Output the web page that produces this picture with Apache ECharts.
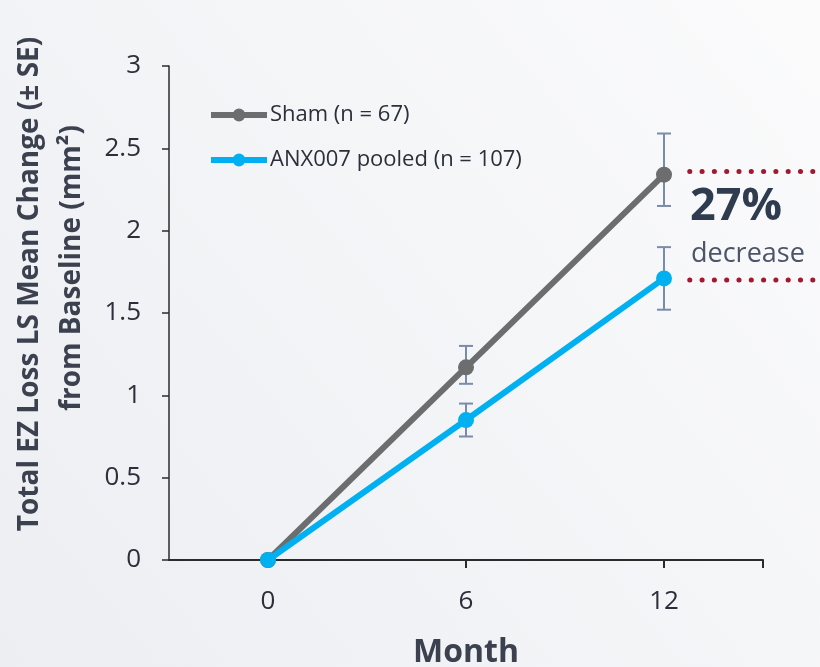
<!DOCTYPE html>
<html>
<head>
<meta charset="utf-8">
<script src="https://cdn.jsdelivr.net/npm/echarts@6/dist/echarts.min.js"></script>
<style>
  html, body { margin: 0; padding: 0; }
  #chart { width: 820px; height: 667px; }
</style>
</head>
<body>
<div id="chart"></div>
<script>
// months on the x axis
var months = [0, 6, 12];
var xLabels = [0, 6, 12];
var yTicks = [0, 0.5, 1, 1.5, 2, 2.5, 3];

// LS mean change, with SE bounds
var shamMean = [0, 1.17, 2.34];
var shamLow = [0, 1.07, 2.15];
var shamHigh = [0, 1.30, 2.59];

var anxMean = [0, 0.85, 1.71];
var anxLow = [0, 0.75, 1.52];
var anxHigh = [0, 0.95, 1.90];

// dotted guides marking the 12-month gap
var guideFrom = 12.78;
var guideLevels = [2.36, 1.70];

var shamName = 'Sham (n = 67)';
var anxName = 'ANX007 pooled (n = 107)';

var font = '"Open Sans", sans-serif';

function pairs(xs, ys) {
  return xs.map(function (x, i) { return [x, ys[i]]; });
}
function errPairs(xs, lo, hi) {
  var out = [];
  xs.forEach(function (x, i) {
    if (hi[i] - lo[i] > 0) out.push([x, lo[i], hi[i]]);
  });
  return out;
}

function errorBar(params, api) {
  var x = api.value(0);
  var lo = api.coord([x, api.value(1)]);
  var hi = api.coord([x, api.value(2)]);
  var w = 7;
  var st = { stroke: '#7b8cab', lineWidth: 2 };
  return {
    type: 'group',
    children: [
      { type: 'line', shape: { x1: lo[0], y1: lo[1], x2: hi[0], y2: hi[1] }, style: st },
      { type: 'line', shape: { x1: lo[0] - w, y1: lo[1], x2: lo[0] + w, y2: lo[1] }, style: st },
      { type: 'line', shape: { x1: hi[0] - w, y1: hi[1], x2: hi[0] + w, y2: hi[1] }, style: st }
    ]
  };
}

var chart = echarts.init(document.getElementById('chart'));
chart.setOption({
  backgroundColor: new echarts.graphic.LinearGradient(0, 1, 1, 0, [
    { offset: 0, color: '#eceef2' },
    { offset: 1, color: '#fbfbfc' }
  ]),
  animation: false,
  grid: { left: 169, right: 57, top: 66, bottom: 107, outerBoundsMode: 'none' },
  legend: {
    orient: 'vertical',
    left: 208,
    top: 104,
    padding: 0,
    itemWidth: 56,
    itemHeight: 16,
    itemGap: 23,
    data: [
      { name: shamName, lineStyle: { width: 6 } },
      { name: anxName, lineStyle: { width: 6 } }
    ],
    textStyle: { fontFamily: font, fontSize: 22, color: '#2a2f3a', padding: [0, 0, 0, -2] }
  },
  xAxis: {
    type: 'value',
    min: -3,
    max: 15,
    name: 'Month',
    nameLocation: 'middle',
    nameGap: 77,
    nameTextStyle: { fontFamily: font, fontSize: 32, fontWeight: 'bold', color: '#3c4150' },
    axisLine: { lineStyle: { color: '#2b2b2b', width: 2 } },
    axisTick: { show: true, customValues: [6, 12, 15], length: 8, lineStyle: { color: '#2b2b2b', width: 2 } },
    axisLabel: { customValues: xLabels, margin: 29, fontFamily: font, fontSize: 26, color: '#2a2f3a' },
    splitLine: { show: false }
  },
  yAxis: {
    type: 'value',
    min: 0,
    max: 3,
    interval: 0.5,
    axisLine: { show: true, onZero: false, lineStyle: { color: '#2b2b2b', width: 1.5 } },
    axisTick: { show: true, length: 7, lineStyle: { color: '#2b2b2b', width: 1.5 } },
    axisLabel: {
      customValues: yTicks, margin: 28, fontFamily: font, fontSize: 26, color: '#2a2f3a'
    },
    splitLine: { show: false }
  },
  graphic: [
    {
      type: 'text',
      rotation: Math.PI / 2,
      x: 30, y: 284,
      style: {
        text: 'Total EZ Loss LS Mean Change (± SE)',
        font: 'bold 28px "Open Sans", sans-serif',
        fill: '#3c4150', align: 'center', verticalAlign: 'middle'
      }
    },
    {
      type: 'text',
      rotation: Math.PI / 2,
      x: 72, y: 268,
      style: {
        text: 'from Baseline (mm²)',
        font: 'bold 28px "Open Sans", sans-serif',
        fill: '#3c4150', align: 'center', verticalAlign: 'middle'
      }
    },
    {
      type: 'text', left: 690, top: 185,
      style: { text: '27%', font: 'bold 45px "Open Sans", sans-serif', fill: '#2f3b4f' }
    },
    {
      type: 'text', left: 691, top: 241,
      style: { text: 'decrease', font: '27px "Open Sans", sans-serif', fill: '#4b5568' }
    }
  ],
  series: [
    {
      type: 'custom',
      renderItem: errorBar,
      data: errPairs(months, shamLow, shamHigh),
      z: 1, silent: true
    },
    {
      type: 'custom',
      renderItem: errorBar,
      data: errPairs(months, anxLow, anxHigh),
      z: 1, silent: true
    },
    {
      name: shamName,
      type: 'line',
      data: pairs(months, shamMean),
      symbol: 'circle',
      symbolSize: 16,
      z: 3,
      itemStyle: { color: '#6b6d6e' },
      lineStyle: { color: '#6b6d6e', width: 6 }
    },
    {
      name: anxName,
      type: 'line',
      data: pairs(months, anxMean),
      symbol: 'circle',
      symbolSize: 16,
      z: 4,
      itemStyle: { color: '#00b0f0' },
      lineStyle: { color: '#00b0f0', width: 6 }
    }
  ]
});

// dotted guides: start at a data position, run to the right edge of the page
var guides = guideLevels.map(function (v, i) {
  var p = chart.convertToPixel({ gridIndex: 0 }, [guideFrom, v]);
  return {
    type: 'line',
    id: 'guide' + i,
    silent: true,
    shape: { x1: p[0], y1: p[1], x2: chart.getWidth() + 4, y2: p[1] },
    style: { stroke: '#a3182f', lineWidth: 5, lineDash: [0.1, 12.2], lineCap: 'round' }
  };
});
chart.setOption({ graphic: guides });
</script>
</body>
</html>
